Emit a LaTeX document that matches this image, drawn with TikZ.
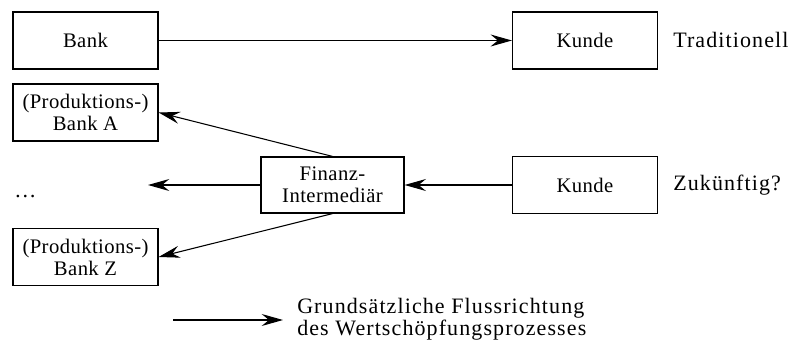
\documentclass[tikz,border=0pt]{standalone}
\usepackage{fontspec}
\setmainfont[LetterSpace=5]{Liberation Serif}
\newfontfamily\boxfont[LetterSpace=2]{Liberation Serif}
\usetikzlibrary{arrows.meta}

\tikzset{
	box/.style={draw, line width=0.9pt, minimum width=108.75pt, minimum height=42.75pt, inner sep=0pt, align=center, font=\boxfont\fontsize{15.5}{16.5}\selectfont},
	flow/.style={line width=0.8pt, -{Stealth[length=16pt,width=9pt,inset=5.5pt]}},
	lbl/.style={inner sep=0pt, align=left, font=\fontsize{16.5}{14.5}\selectfont}
}

\begin{document}
		\begin{tikzpicture}[x=0.75pt,y=0.75pt,yscale=-1,xscale=1]
			\useasboundingbox (0,0) rectangle (792,342); %diagram is 792 wide, 342 high
			
			%Shape: Rectangle [id:bank]
			\node [box] (bank) at (85.5,40.5) {Bank};
			%Shape: Rectangle [id:kundeT]
			\node [box] (kundeT) at (585,40.5) {Kunde};
			%Shape: Rectangle [id:bankA]
			\node [box] (bankA) at (85.5,112.5) {(Produktions-)\\Bank A};
			%Shape: Rectangle [id:finanz]
			\node [box, minimum width=107.25pt, minimum height=42pt] (finanz) at (332.5,185) {Finanz-\\Intermediär};
			%Shape: Rectangle [id:kundeZ]
			\node [box] (kundeZ) at (585,185) {Kunde};
			%Shape: Rectangle [id:bankZ]
			\node [box] (bankZ) at (85.5,257) {(Produktions-)\\Bank Z};
			
			% Text Node
			\node [lbl, anchor=west] (trad) at (673,40) {Traditionell};
			% Text Node
			\node [lbl, anchor=west] (zuk) at (673,185) {Zukünftig?};
			% Text Node
			\node [lbl, anchor=base west] (dots) at (14,197) {\dots};
			% Text Node
			\node [lbl, anchor=west] (legtext) at (297,319) {Grundsätzliche Flussrichtung\\des Wertschöpfungsprozesses};
			
			\coordinate (dotsend) at (148,185);
			\coordinate (legA) at (173,320);
			\coordinate (legB) at (283,320);
			
			%Straight Lines [id:flows]
			\draw [flow] (bank) -- (kundeT);
			\draw [flow] (kundeZ) -- (finanz);
			\draw [flow] (finanz) -- (dotsend);
			\draw [flow] (finanz.north) -- (bankA.east);
			\draw [flow] (finanz.south) -- (bankZ.east);
			%Straight Lines [id:legend]
			\draw [flow] (legA) -- (legB);
			
		\end{tikzpicture}
\end{document}
